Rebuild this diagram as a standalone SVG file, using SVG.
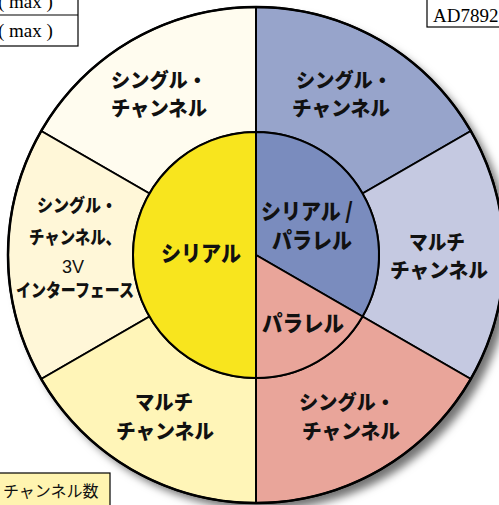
<svg xmlns="http://www.w3.org/2000/svg" width="499" height="505" viewBox="0 0 499 505">
  <defs>
    <filter id="shadow" x="-10%" y="-10%" width="130%" height="130%">
      <feDropShadow dx="7" dy="7" stdDeviation="4" flood-color="#000" flood-opacity="0.55"/>
    </filter>
  </defs>
  <style>
    .sec { stroke: #000; stroke-width: 2; stroke-linejoin: round; }
    .lbl { font-family: "Noto Sans CJK JP", sans-serif; font-weight: 900; fill: #111; }
    .o { font-size: 20px; }
    .i { font-size: 22px; }
    .m { font-size: 18px; }
    .serif { font-family: "Liberation Serif", serif; font-size: 19px; fill: #000; }
    .box { fill: #fff; stroke: #000; stroke-width: 1.2; }
  </style>
  <rect width="499" height="505" fill="#fff"/>

  <g id="legend-max">
    <rect class="box" x="-5" y="-10" width="83" height="56"/>
    <line x1="-5" y1="15" x2="78" y2="15" stroke="#000" stroke-width="1.2"/>
    <text class="serif" x="-2" y="8">( max )</text>
    <text class="serif" x="-2" y="37">( max )</text>
  </g>
  <g id="legend-part">
    <rect class="box" x="427" y="-5" width="80" height="32"/>
    <text class="serif" x="433" y="22">AD7892</text>
  </g>

  <circle cx="256" cy="255" r="248" fill="#fff" filter="url(#shadow)"/>

  <g id="outer-tl">
    <path class="sec" fill="#fffcef" d="M256,7 A248,248 0 0 0 41.22,131 L149.48,193.5 A123,123 0 0 1 256,132 Z"/>
    <text class="lbl o" x="111" y="88" textLength="96" lengthAdjust="spacingAndGlyphs">シングル・</text>
    <text class="lbl o" x="111" y="116" textLength="96" lengthAdjust="spacingAndGlyphs">チャンネル</text>
  </g>
  <g id="outer-ml">
    <path class="sec" fill="#fff7d8" d="M41.22,131 A248,248 0 0 0 41.22,379 L149.48,316.5 A123,123 0 0 1 149.48,193.5 Z"/>
    <text class="lbl m" x="37" y="212" textLength="80" lengthAdjust="spacingAndGlyphs">シングル・</text>
    <text class="lbl m" x="29" y="244" textLength="92" lengthAdjust="spacingAndGlyphs">チャンネル、</text>
    <text x="73" y="273" text-anchor="middle" font-family="Liberation Sans, sans-serif" font-size="18" fill="#111">3V</text>
    <text class="lbl m" x="16" y="297" textLength="118" lengthAdjust="spacingAndGlyphs">インターフェース</text>
  </g>
  <g id="outer-bl">
    <path class="sec" fill="#fff5b8" d="M41.22,379 A248,248 0 0 0 256,503 L256,378 A123,123 0 0 1 149.48,316.5 Z"/>
    <text class="lbl o" x="135" y="410" textLength="58" lengthAdjust="spacingAndGlyphs">マルチ</text>
    <text class="lbl o" x="116" y="439" textLength="98" lengthAdjust="spacingAndGlyphs">チャンネル</text>
  </g>
  <g id="outer-tr">
    <path class="sec" fill="#97a4cb" d="M256,7 A248,248 0 0 1 470.78,131 L362.52,193.5 A123,123 0 0 0 256,132 Z"/>
    <text class="lbl o" x="296" y="88" textLength="96" lengthAdjust="spacingAndGlyphs">シングル・</text>
    <text class="lbl o" x="292" y="116" textLength="98" lengthAdjust="spacingAndGlyphs">チャンネル</text>
  </g>
  <g id="outer-mr">
    <path class="sec" fill="#c5c9e1" d="M470.78,131 A248,248 0 0 1 470.78,379 L362.52,316.5 A123,123 0 0 0 362.52,193.5 Z"/>
    <text class="lbl o" x="409" y="250" textLength="56" lengthAdjust="spacingAndGlyphs">マルチ</text>
    <text class="lbl o" x="390" y="278" textLength="98" lengthAdjust="spacingAndGlyphs">チャンネル</text>
  </g>
  <g id="outer-br">
    <path class="sec" fill="#e9a59a" d="M470.78,379 A248,248 0 0 1 256,503 L256,378 A123,123 0 0 0 362.52,316.5 Z"/>
    <text class="lbl o" x="299" y="410" textLength="96" lengthAdjust="spacingAndGlyphs">シングル・</text>
    <text class="lbl o" x="302" y="439" textLength="98" lengthAdjust="spacingAndGlyphs">チャンネル</text>
  </g>

  <g id="inner-serial">
    <path class="sec" fill="#f8e51e" d="M256,132 A123,123 0 0 0 256,378 Z"/>
    <text class="lbl i" x="161" y="261" textLength="80" lengthAdjust="spacingAndGlyphs">シリアル</text>
  </g>
  <g id="inner-both">
    <path class="sec" fill="#7a8cbe" d="M256,132 A123,123 0 0 1 362.52,316.5 L256,255 Z"/>
    <text class="lbl i" x="261" y="219" textLength="92" lengthAdjust="spacingAndGlyphs">シリアル /</text>
    <text class="lbl i" x="272" y="248" textLength="80" lengthAdjust="spacingAndGlyphs">パラレル</text>
  </g>
  <g id="inner-parallel">
    <path class="sec" fill="#e9a59a" d="M362.52,316.5 A123,123 0 0 1 256,378 L256,255 Z"/>
    <text class="lbl i" x="262" y="331" textLength="82" lengthAdjust="spacingAndGlyphs">パラレル</text>
  </g>

  <g id="connectors">
    <circle cx="256" cy="255" r="248" fill="none" stroke="#000" stroke-width="2.5"/>
  </g>

  <g id="legend-axis">
    <rect x="-2" y="473" width="112" height="40" fill="#fff4b0" stroke="#000" stroke-width="1.2"/>
    <text x="3" y="497" font-family="Noto Sans CJK JP, sans-serif" font-size="16" fill="#111">チャンネル数</text>
  </g>
</svg>
